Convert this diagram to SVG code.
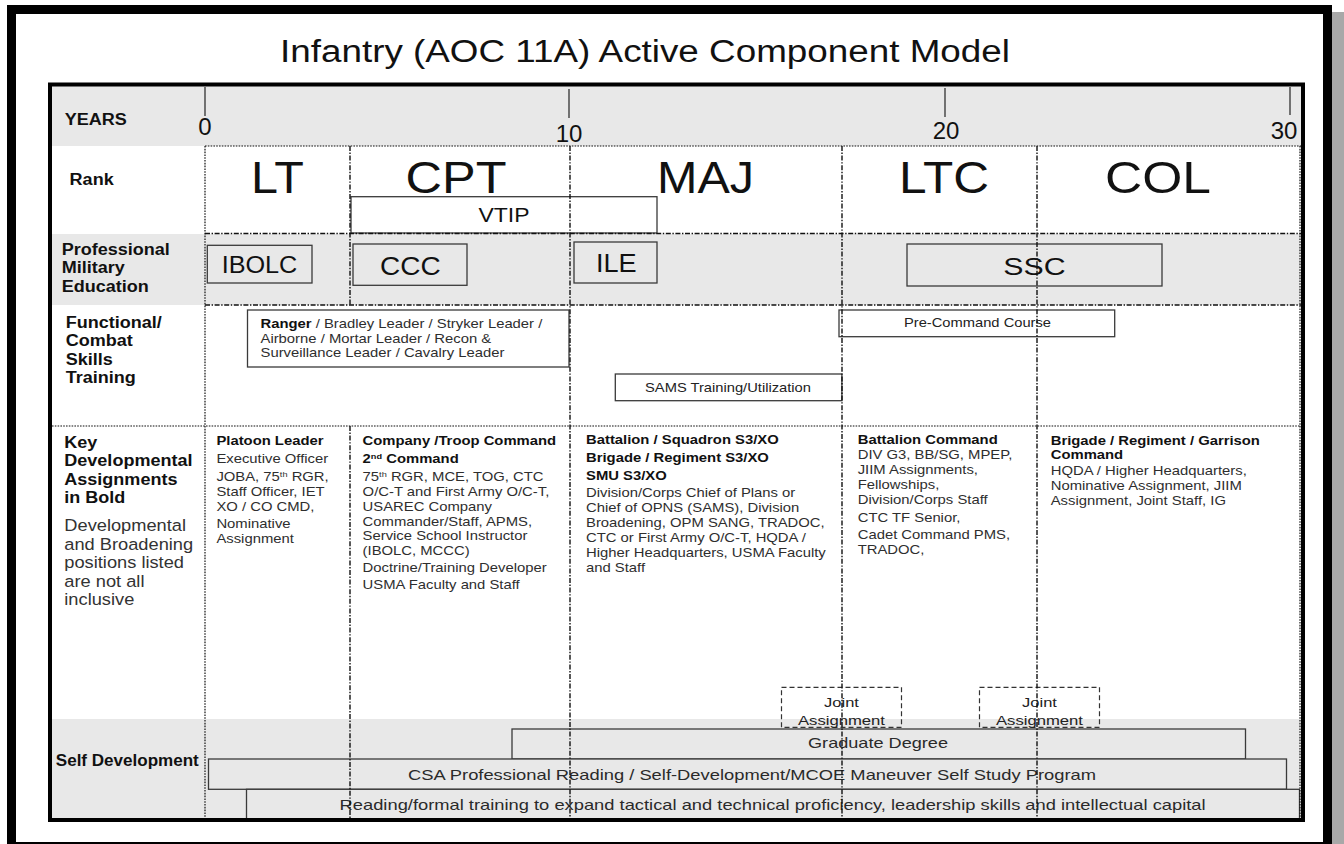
<svg xmlns="http://www.w3.org/2000/svg" width="1344" height="844" viewBox="0 0 1344 844">
<style>
text{font-family:"Liberation Sans",Arial,Helvetica,sans-serif;fill:#111}
.title{font-size:31px}
.rank{font-size:45px;text-anchor:middle}
.yr{font-size:24px;text-anchor:middle}
.lbl{font-size:16.4px;font-weight:bold}
.note{font-size:16.6px;fill:#333}
.body{font-size:12.9px;fill:#2e2e2e}
.b{font-weight:bold;fill:#111}
.pme{text-anchor:middle;fill:#111}
.bx{font-size:12.7px;text-anchor:middle;fill:#222}
.sd{font-size:15px;fill:#2a2a2a}
.band{fill:#e8e8e8}
.box{stroke:#3a3a3a;stroke-width:1.3}
.wbox{fill:#fff}
.gbox{fill:#e8e8e8}
.joint{fill:none;stroke:#333;stroke-width:1.2;stroke-dasharray:5 3}
.dd{stroke:#111;stroke-width:1.4;stroke-dasharray:5 1.6 1.4 1.6;fill:none}
.dt{stroke:#111;stroke-width:1.2;stroke-dasharray:1.6 1.2;fill:none}
.tick{stroke:#222;stroke-width:1.2}
</style>
<rect x="0" y="0" width="1344" height="844" fill="#fff"/>
<rect x="1332" y="12" width="12" height="832" fill="#a8a8a8"/>
<rect x="11.5" y="9.5" width="1316" height="837" fill="none" stroke="#000" stroke-width="9"/>
<text class="title" x="280" y="62" textLength="730" lengthAdjust="spacingAndGlyphs">Infantry (AOC 11A) Active Component Model</text>

<g id="bands">
<rect class="band" x="52" y="86" width="1249" height="60"/>
<rect class="band" x="52" y="234" width="1249" height="71"/>
<rect class="band" x="52" y="719" width="1249" height="100"/>
</g>

<g id="axis">
<line class="tick" x1="205" y1="87" x2="205" y2="116"/>
<line class="tick" x1="569" y1="89" x2="569" y2="118"/>
<line class="tick" x1="945" y1="88" x2="945" y2="117"/>
<line class="tick" x1="1290" y1="87" x2="1290" y2="115"/>
<text class="yr" x="205" y="135">0</text>
<text class="yr" x="569" y="142">10</text>
<text class="yr" x="946" y="139">20</text>
<text class="yr" x="1284" y="139">30</text>
</g>

<g id="row-labels">
<text class="lbl" transform="translate(64.7,0) scale(1.1,1)" x="0" y="125" font-size="14.5">YEARS</text>
<text class="lbl" transform="translate(69.6,0) scale(1.1,1)" x="0" y="185">Rank</text>
<text class="lbl" transform="translate(61.7,0) scale(1.1,1)"><tspan x="0" y="255">Professional</tspan><tspan x="0" y="273.5">Military</tspan><tspan x="0" y="292">Education</tspan></text>
<text class="lbl" transform="translate(65.7,0) scale(1.1,1)"><tspan x="0" y="328">Functional/</tspan><tspan x="0" y="346.5">Combat</tspan><tspan x="0" y="365">Skills</tspan><tspan x="0" y="383.5">Training</tspan></text>
<text class="lbl" transform="translate(64.3,0) scale(1.1,1)"><tspan x="0" y="448">Key</tspan><tspan x="0" y="466.5">Developmental</tspan><tspan x="0" y="485">Assignments</tspan><tspan x="0" y="503.5">in Bold</tspan></text>
<text class="note" transform="translate(64.3,0) scale(1.1,1)"><tspan x="0" y="531.5">Developmental</tspan><tspan x="0" y="550">and Broadening</tspan><tspan x="0" y="568.5">positions listed</tspan><tspan x="0" y="587">are not all</tspan><tspan x="0" y="605.5">inclusive</tspan></text>
<text class="lbl" x="55.8" y="766" font-size="15.2" textLength="143" lengthAdjust="spacingAndGlyphs">Self Development</text>
</g>

<g id="ranks">
<text class="rank" x="277.5" y="193" textLength="53" lengthAdjust="spacingAndGlyphs">LT</text>
<text class="rank" x="456" y="193" textLength="101" lengthAdjust="spacingAndGlyphs">CPT</text>
<text class="rank" x="705.5" y="193" textLength="97" lengthAdjust="spacingAndGlyphs">MAJ</text>
<text class="rank" x="944" y="193" textLength="90" lengthAdjust="spacingAndGlyphs">LTC</text>
<text class="rank" x="1158" y="193" textLength="106" lengthAdjust="spacingAndGlyphs">COL</text>
</g>

<g id="vtip">
<rect class="box wbox" x="351" y="196.7" width="306" height="36.3"/>
<text class="pme" x="504" y="222" font-size="20" textLength="51" lengthAdjust="spacingAndGlyphs">VTIP</text>
</g>

<g id="ibolc">
<rect class="box gbox" x="207.3" y="245.3" width="104.7" height="37.7"/>
<text class="pme" x="259.5" y="273" font-size="23" textLength="75.7" lengthAdjust="spacingAndGlyphs">IBOLC</text>
</g>
<g id="ccc">
<rect class="box gbox" x="353" y="244" width="114" height="41.3"/>
<text class="pme" x="410.4" y="274.7" font-size="25.5" textLength="60.7" lengthAdjust="spacingAndGlyphs">CCC</text>
</g>
<g id="ile">
<rect class="box gbox" x="574" y="242" width="83" height="41"/>
<text class="pme" x="616.3" y="272" font-size="26" textLength="40.7" lengthAdjust="spacingAndGlyphs">ILE</text>
</g>
<g id="ssc">
<rect class="box gbox" x="907" y="244" width="255" height="42"/>
<text class="pme" x="1034.5" y="275" font-size="24.5" textLength="62.3" lengthAdjust="spacingAndGlyphs">SSC</text>
</g>

<g id="ranger">
<rect class="box wbox" x="247.5" y="310" width="321.5" height="57"/>
<text class="body" transform="translate(260.5,0) scale(1.15,1)"><tspan x="0" y="328.3"><tspan class="b">Ranger</tspan> / Bradley Leader / Stryker Leader /</tspan><tspan x="0" y="342.7">Airborne / Mortar Leader / Recon &amp;</tspan><tspan x="0" y="357.3">Surveillance Leader / Cavalry Leader</tspan></text>
</g>
<g id="precommand">
<rect class="box wbox" x="839" y="310" width="275.7" height="26.7"/>
<text class="bx" x="977.5" y="327.3" textLength="147" lengthAdjust="spacingAndGlyphs">Pre-Command Course</text>
</g>
<g id="sams">
<rect class="box wbox" x="615.3" y="374" width="226.6" height="26.7"/>
<text class="bx" x="728" y="391.7" textLength="166" lengthAdjust="spacingAndGlyphs">SAMS Training/Utilization</text>
</g>

<g id="kd-lt">
<text class="body" transform="translate(216.4,0) scale(1.15,1)"><tspan class="b" x="0" y="445">Platoon Leader</tspan><tspan x="0" y="462.7">Executive Officer</tspan><tspan x="0" y="480.7">JOBA, 75<tspan font-size="8" dy="-4">th</tspan><tspan dy="4"> RGR,</tspan></tspan><tspan x="0" y="496">Staff Officer, IET</tspan><tspan x="0" y="510.7">XO / CO CMD,</tspan><tspan x="0" y="528">Nominative</tspan><tspan x="0" y="542.7">Assignment</tspan></text>
</g>
<g id="kd-cpt">
<text class="body" transform="translate(362.6,0) scale(1.15,1)"><tspan class="b" x="0" y="445">Company /Troop Command</tspan><tspan class="b" x="0" y="462.7">2<tspan font-size="8" dy="-4">nd</tspan><tspan dy="4"> Command</tspan></tspan><tspan x="0" y="480.7">75<tspan font-size="8" dy="-4">th</tspan><tspan dy="4"> RGR, MCE, TOG, CTC</tspan></tspan><tspan x="0" y="496">O/C-T and First Army O/C-T,</tspan><tspan x="0" y="510.7">USAREC Company</tspan><tspan x="0" y="526">Commander/Staff, APMS,</tspan><tspan x="0" y="540.5">Service School Instructor</tspan><tspan x="0" y="555.3">(IBOLC, MCCC)</tspan><tspan x="0" y="572">Doctrine/Training Developer</tspan><tspan x="0" y="589">USMA Faculty and Staff</tspan></text>
</g>
<g id="kd-maj">
<text class="body" transform="translate(586,0) scale(1.15,1)"><tspan class="b" x="0" y="444.5">Battalion / Squadron S3/XO</tspan><tspan class="b" x="0" y="462">Brigade / Regiment S3/XO</tspan><tspan class="b" x="0" y="480">SMU S3/XO</tspan><tspan x="0" y="496.7">Division/Corps Chief of Plans or</tspan><tspan x="0" y="511.7">Chief of OPNS (SAMS), Division</tspan><tspan x="0" y="526.7">Broadening, OPM SANG, TRADOC,</tspan><tspan x="0" y="541.7">CTC or First Army O/C-T, HQDA /</tspan><tspan x="0" y="557">Higher Headquarters, USMA Faculty</tspan><tspan x="0" y="571.7">and Staff</tspan></text>
</g>
<g id="kd-ltc">
<text class="body" transform="translate(857.7,0) scale(1.15,1)"><tspan class="b" x="0" y="444.5">Battalion Command</tspan><tspan x="0" y="459.3">DIV G3, BB/SG, MPEP,</tspan><tspan x="0" y="474.3">JIIM Assignments,</tspan><tspan x="0" y="489">Fellowships,</tspan><tspan x="0" y="504">Division/Corps Staff</tspan><tspan x="0" y="521.7">CTC TF Senior,</tspan><tspan x="0" y="539.3">Cadet Command PMS,</tspan><tspan x="0" y="554">TRADOC,</tspan></text>
</g>
<g id="kd-col">
<text class="body" transform="translate(1050.7,0) scale(1.15,1)"><tspan class="b" x="0" y="445">Brigade / Regiment / Garrison</tspan><tspan class="b" x="0" y="459">Command</tspan><tspan x="0" y="475">HQDA / Higher Headquarters,</tspan><tspan x="0" y="490">Nominative Assignment, JIIM</tspan><tspan x="0" y="505">Assignment, Joint Staff, IG</tspan></text>
</g>

<g id="joint1">
<rect class="joint" x="781.5" y="687.3" width="120" height="40"/>
<text class="bx" x="841.5" y="707" font-size="14.9" textLength="34.8" lengthAdjust="spacingAndGlyphs">Joint</text>
<text class="bx" x="841.5" y="725" font-size="14.9" textLength="87" lengthAdjust="spacingAndGlyphs">Assignment</text>
</g>
<g id="joint2">
<rect class="joint" x="979.5" y="687.3" width="120" height="40"/>
<text class="bx" x="1039.5" y="707" font-size="14.9" textLength="34.8" lengthAdjust="spacingAndGlyphs">Joint</text>
<text class="bx" x="1039.5" y="725" font-size="14.9" textLength="87" lengthAdjust="spacingAndGlyphs">Assignment</text>
</g>

<g id="grad">
<rect class="box gbox" x="512" y="729" width="733.5" height="30"/>
<text class="sd" x="808" y="748.3" textLength="140" lengthAdjust="spacingAndGlyphs">Graduate Degree</text>
</g>
<g id="csa">
<rect class="box gbox" x="208.5" y="759" width="1078" height="30.3"/>
<text class="sd" x="408" y="779.5" textLength="688" lengthAdjust="spacingAndGlyphs">CSA Professional Reading / Self-Development/MCOE Maneuver Self Study Program</text>
</g>
<g id="reading">
<rect class="box gbox" x="246.5" y="789.3" width="1053" height="29.7"/>
<text class="sd" x="339.6" y="809.5" textLength="866" lengthAdjust="spacingAndGlyphs">Reading/formal training to expand tactical and technical proficiency, leadership skills and intellectual capital</text>
</g>

<g id="grid">
<line class="dt" x1="205" y1="146" x2="1301" y2="146"/>
<line class="dd" x1="205" y1="233.5" x2="1301" y2="233.5"/>
<line class="dd" x1="205" y1="305" x2="1301" y2="305"/>
<line class="dt" x1="52" y1="426" x2="1301" y2="426"/>
<line class="dt" x1="205" y1="146" x2="205" y2="819"/>
<line class="dd" x1="350" y1="146" x2="350" y2="305"/>
<line class="dd" x1="350" y1="426" x2="350" y2="819"/>
<line class="dd" x1="570" y1="146" x2="570" y2="819"/>
<line class="dd" x1="842" y1="146" x2="842" y2="819"/>
<line class="dd" x1="1037" y1="146" x2="1037" y2="819"/>
<line class="dt" x1="1300" y1="146" x2="1300" y2="819"/>
</g>

<rect id="table-border" x="50" y="84.5" width="1253" height="735.5" fill="none" stroke="#000" stroke-width="4"/>
</svg>
